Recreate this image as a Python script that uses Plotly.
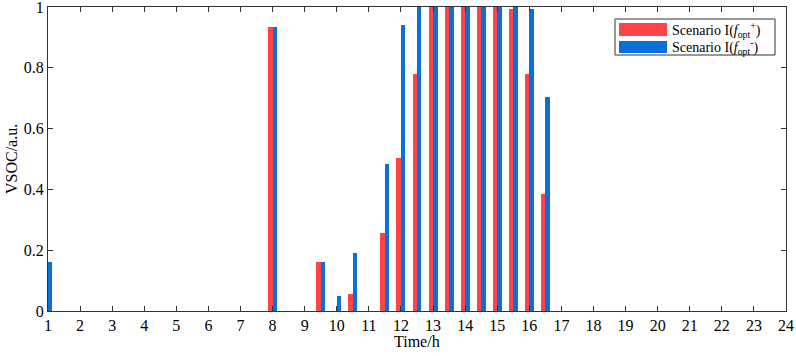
import plotly.graph_objects as go

# Data (time in hours, half-hour resolution; only non-empty slots listed)
time_h = [1, 8, 9.5, 10, 10.5, 11.5, 12, 12.5, 13, 13.5, 14, 14.5, 15, 15.5, 16, 16.5]
vsoc_plus = [0.0, 0.935, 0.16, 0.0, 0.057, 0.257, 0.503, 0.779, 1.0, 1.0, 1.0, 1.0, 1.0, 0.995, 0.78, 0.386]
vsoc_minus = [0.16, 0.935, 0.16, 0.05, 0.19, 0.484, 0.94, 1.0, 1.0, 1.0, 1.0, 1.0, 1.0, 1.0, 0.995, 0.703]
x_ticks = list(range(1, 25))
y_ticks = [0, 0.2, 0.4, 0.6, 0.8, 1]

RED = "#FF4347"
BLUE = "#0A6FD9"
FONT = "Liberation Serif"
BW = 0.14

fig = go.Figure()
fig.add_trace(go.Bar(x=time_h, y=vsoc_plus, width=BW, offset=-BW,
                     marker=dict(color=RED, line=dict(width=0)),
                     name="Scenario I(f_opt+)", showlegend=False))
fig.add_trace(go.Bar(x=time_h, y=vsoc_minus, width=BW, offset=0,
                     marker=dict(color=BLUE, line=dict(width=0)),
                     name="Scenario I(f_opt-)", showlegend=False))

L, R, T, B = 48, 786, 7, 311
W, H = R - L, B - T


def px(x):
    return (x - L) / W


def py(y):
    return (B - y) / H


# Legend drawn manually (wide swatches like the reference)
shapes = [
    dict(type="rect", xref="paper", yref="paper", x0=px(615), x1=px(775), y0=py(55), y1=py(19),
         line=dict(color="#333333", width=1), fillcolor="white", layer="above"),
    dict(type="rect", xref="paper", yref="paper", x0=px(619), x1=px(667), y0=py(36), y1=py(23),
         line=dict(width=0), fillcolor=RED, layer="above"),
    dict(type="rect", xref="paper", yref="paper", x0=px(619), x1=px(667), y0=py(53), y1=py(41),
         line=dict(width=0), fillcolor=BLUE, layer="above"),
]
annotations = [
    dict(xref="paper", yref="paper", x=px(670), y=py(29.5), xanchor="left", yanchor="middle",
         text="Scenario I(<i>f</i><sub>opt</sub><sup>+</sup>)", showarrow=False,
         font=dict(family=FONT, size=14, color="black")),
    dict(xref="paper", yref="paper", x=px(670), y=py(47), xanchor="left", yanchor="middle",
         text="Scenario I(<i>f</i><sub>opt</sub><sup>-</sup>)", showarrow=False,
         font=dict(family=FONT, size=14, color="black")),
    dict(xref="paper", yref="paper", x=0.5, y=py(341), xanchor="center", yanchor="middle",
         text="Time/h", showarrow=False, font=dict(family=FONT, size=16, color="black")),
    dict(xref="paper", yref="paper", x=px(11), y=0.5, xanchor="center", yanchor="middle",
         text="VSOC/a.u.", textangle=-90, showarrow=False,
         font=dict(family=FONT, size=16, color="black")),
]

fig.update_layout(
    width=796, height=356,
    margin=dict(l=L, r=796 - R, t=T, b=356 - B, autoexpand=False),
    paper_bgcolor="white", plot_bgcolor="white",
    barmode="overlay", bargap=0,
    font=dict(family=FONT, size=16, color="black"),
    shapes=shapes, annotations=annotations,
    showlegend=False,
)
fig.update_xaxes(
    range=[1, 24], tickvals=x_ticks, ticktext=[str(v) for v in x_ticks],
    ticks="inside", ticklen=5, tickcolor="#333333", showline=True, linecolor="#333333",
    linewidth=1, mirror="ticks", showgrid=False, zeroline=False, automargin=False,
    ticklabeloverflow="allow", tickfont=dict(family=FONT, size=16),
)
fig.update_yaxes(
    range=[0, 1], tickvals=y_ticks, ticktext=["0", "0.2", "0.4", "0.6", "0.8", "1"],
    ticks="inside", ticklen=5, tickcolor="#333333", showline=True, linecolor="#333333",
    linewidth=1, mirror="ticks", showgrid=False, zeroline=False, automargin=False,
    ticklabeloverflow="allow", tickfont=dict(family=FONT, size=16),
)

fig.write_html("out.html", config={"displayModeBar": False},
               post_script="document.body.style.margin='0';")
